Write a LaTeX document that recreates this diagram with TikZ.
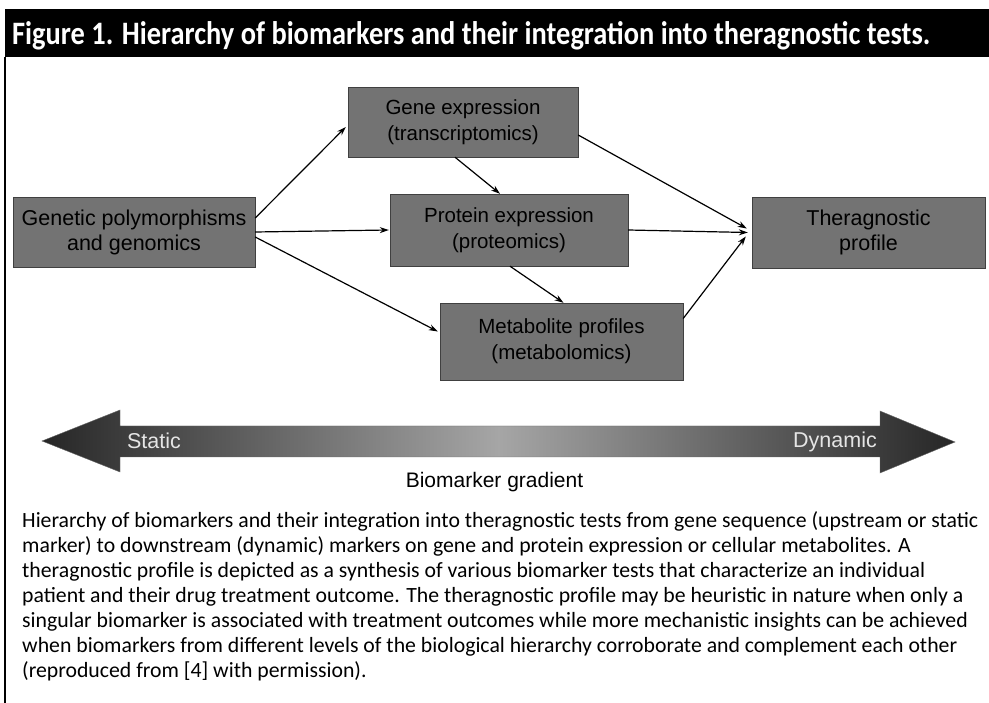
\documentclass[tikz,border=0pt]{standalone}
\usepackage{fontspec}
\usepackage{graphicx}
\setmainfont{Carlito}
\newfontfamily\arialf{Liberation Sans}
\newfontfamily\capf{Carlito}
\usetikzlibrary{arrows.meta}
\newlength\capwd
\begin{document}
\settowidth{\capwd}{\capf\fontsize{10pt}{12pt}\selectfont Hierarchy of biomarkers and their integration into theragnostic tests from gene sequence (upstream or static}%
\pgfmathsetmacro\capsize{10*956/\capwd}%
\begin{tikzpicture}[x=1pt,y=-1pt,
  box/.style={draw=black!75, fill=black!55, text=black, align=center, inner sep=0pt,
              font=\arialf\fontsize{20.5pt}{26pt}\selectfont},
  bigbox/.style={box, font=\arialf\fontsize{21.5pt}{25pt}\selectfont},
  arr/.style={line width=1.2pt, -{Stealth[length=9pt,width=6pt]}},
  lbl/.style={inner sep=0pt, font=\arialf\fontsize{21.5pt}{24pt}\selectfont},
  capline/.style={anchor=base west, inner sep=0pt, font=\capf\fontsize{\capsize pt}{25pt}\selectfont}]
\useasboundingbox (0,0) rectangle (989,703);
% title bar and frame
\fill[black] (5,9) rectangle (989,57);
\draw[line width=1.5pt] (5,57) -- (5,703);
\node[anchor=base west, inner sep=0pt, text=white] (title) at (12,45)
  {\resizebox{918pt}{23pt}{\bfseries Figure 1. Hierarchy of biomarkers and their integration into theragnostic tests.}};
% boxes
\node[bigbox, minimum width=242pt, minimum height=70pt] (gen) at (134,232) {Genetic polymorphisms\\and genomics};
\node[box, minimum width=230pt, minimum height=70pt] (gene) at (463,122) {Gene expression\\(transcriptomics)};
\node[box, minimum width=238pt, minimum height=72pt] (prot) at (509,230) {Protein expression\\(proteomics)};
\node[box, minimum width=243pt, minimum height=77pt] (metab) at (561.5,341.5) {Metabolite profiles\\(metabolomics)};
\node[bigbox, minimum width=233pt, minimum height=71pt] (thera) at (868.5,232.5) {Theragnostic\\profile};
% connectors
\draw[arr] ([yshift=14pt]gen.east) -- ([yshift=-5pt,xshift=-2pt]gene.west);
\draw[arr] (gen.east) -- ([xshift=-1pt]prot.west);
\draw[arr] ([yshift=-5pt]gen.east) -- ([yshift=10pt,xshift=-2pt]metab.west);
\draw[arr] ([xshift=-8pt]gene.south) -- ([xshift=-9pt]prot.north);
\draw[arr] ([xshift=1pt]prot.south) -- ([xshift=2pt]metab.north);
\draw[arr] ([yshift=-13pt]gene.east) -- ([xshift=-5pt,yshift=4pt]thera.west);
\draw[arr] (prot.east) -- ([xshift=-4pt]thera.west);
\draw[arr] ([yshift=23pt]metab.east) -- ([xshift=-6pt,yshift=-4pt]thera.west);
% gradient double arrow
\shade[left color=black!85, right color=black!85, middle color=black!35, draw=black!60]
  (42,441) -- (120,410) -- (120,426) -- (880,426) -- (880,411) -- (955,442)
  -- (880,473) -- (880,457) -- (120,457) -- (120,472) -- cycle;
\node[lbl, text=black!10] (static) at (154,441) {Static};
\node[lbl, text=black!10] (dynamic) at (835,442) {Dynamic};
\node[anchor=base, inner sep=0pt, font=\arialf\fontsize{21pt}{24pt}\selectfont] (grad) at (494.5,488) {Biomarker gradient};
% caption
\node[capline] (c1) at (22,527) {Hierarchy of biomarkers and their integration into theragnostic tests from gene sequence (upstream or static};
\node[capline] (c2) at (22,552) {marker) to downstream (dynamic) markers on gene and protein expression or cellular metabolites. A};
\node[capline] (c3) at (22,577) {theragnostic profile is depicted as a synthesis of various biomarker tests that characterize an individual};
\node[capline] (c4) at (22,602) {patient and their drug treatment outcome. The theragnostic profile may be heuristic in nature when only a};
\node[capline] (c5) at (22,627) {singular biomarker is associated with treatment outcomes while more mechanistic insights can be achieved};
\node[capline] (c6) at (22,652) {when biomarkers from different levels of the biological hierarchy corroborate and complement each other};
\node[capline] (c7) at (22,677) {(reproduced from [4] with permission).};
\end{tikzpicture}
\end{document}
